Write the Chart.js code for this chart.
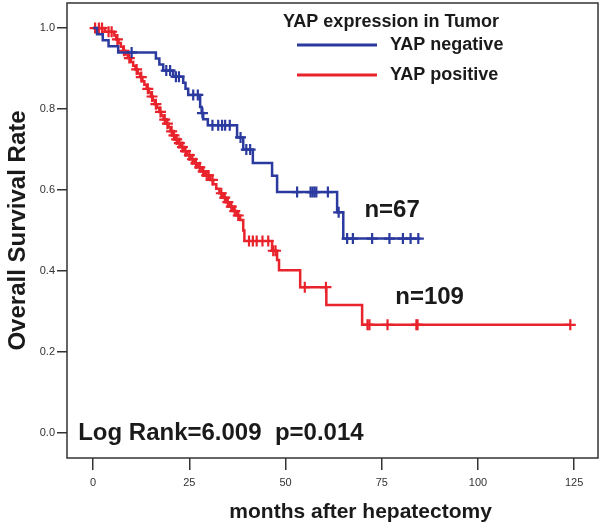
<!DOCTYPE html>
<html>
<head>
<meta charset="utf-8">
<script src="https://cdn.jsdelivr.net/npm/chart.js@4.4.0/dist/chart.umd.min.js"></script>
<style>
  html, body { margin: 0; padding: 0; background: #fff; }
</style>
</head>
<body>
<canvas id="km" width="600" height="524"></canvas>
<script>
// Kaplan-Meier steps: [month, survival after the event]
const negSteps = [
  [0, 1.0], [1, 0.985], [2.5, 0.97], [4, 0.955], [6.5, 0.94], [16.3, 0.925], [17.2, 0.91],
  [18.2, 0.895], [20.8, 0.88], [23.4, 0.865], [24, 0.85], [24.7, 0.835], [27.8, 0.805],
  [28.2, 0.79], [28.6, 0.775], [29.8, 0.76], [37.4, 0.73], [39, 0.70], [41.5, 0.667],
  [46.5, 0.635], [47.8, 0.595], [63.4, 0.545], [65, 0.48], [85, 0.48]
];
const negCensored = [
  [10, 0.94], [19, 0.895], [20, 0.895], [21.5, 0.88], [22.3, 0.88], [26, 0.835], [27.2, 0.835],
  [28.4, 0.79], [31, 0.76], [32.5, 0.76], [33.5, 0.76], [34.3, 0.76], [35.5, 0.76], [38.3, 0.73],
  [39.8, 0.70], [40.8, 0.70], [53, 0.595], [56.5, 0.595], [57, 0.595], [57.5, 0.595], [58, 0.595],
  [61, 0.595], [63.8, 0.545], [66, 0.48], [67.5, 0.48], [72.5, 0.48], [77, 0.48], [80.5, 0.48],
  [82.5, 0.48], [84.5, 0.48]
];
const posSteps = [
  [0, 1.0], [3, 0.991], [5.5, 0.982], [6, 0.972], [6.6, 0.963], [7.2, 0.954], [7.8, 0.944],
  [8.3, 0.935], [9, 0.926], [9.8, 0.916], [10.4, 0.907], [11, 0.898], [11.6, 0.888],
  [12.2, 0.879], [12.8, 0.869], [13.3, 0.86], [13.9, 0.85], [14.5, 0.841], [15, 0.831],
  [15.5, 0.822], [16, 0.812], [16.6, 0.803], [17.2, 0.793], [17.7, 0.784], [18.3, 0.774],
  [19, 0.764], [19.6, 0.755], [20.1, 0.745], [20.6, 0.735], [21.3, 0.725], [22, 0.716],
  [22.8, 0.706], [23.6, 0.696], [24.4, 0.686], [25.3, 0.676], [26.2, 0.666], [27.2, 0.656],
  [28.2, 0.646], [29, 0.636], [30.4, 0.625], [31.2, 0.614], [32, 0.603], [32.8, 0.592],
  [33.7, 0.581], [34.6, 0.57], [35.5, 0.559], [36.4, 0.548], [37.3, 0.537], [38.2, 0.526],
  [39, 0.5], [39.3, 0.474], [46.5, 0.45], [47.8, 0.427], [48.3, 0.402], [53.8, 0.36],
  [60.6, 0.316], [69.9, 0.267], [124, 0.267]
];
const posCensored = [
  [0.5, 1.0], [1.5, 1.0], [2.3, 1.0], [4, 0.991], [4.8, 0.991], [6.3, 0.972], [8, 0.944],
  [9.4, 0.926], [11.3, 0.898], [12.5, 0.879], [14.2, 0.85], [15.3, 0.831], [16.3, 0.812],
  [17.5, 0.793], [18.6, 0.774], [19.3, 0.764], [20.4, 0.745], [21, 0.735], [21.7, 0.725],
  [22.4, 0.716], [23.2, 0.706], [24, 0.696], [25, 0.686], [25.8, 0.676], [26.7, 0.666],
  [27.7, 0.656], [28.6, 0.646], [29.5, 0.636], [30, 0.636], [31, 0.625], [33.3, 0.592],
  [34.2, 0.581], [35, 0.57], [35.9, 0.559], [36.8, 0.548], [37.7, 0.537], [40.5, 0.474],
  [41.5, 0.474], [42.5, 0.474], [44, 0.474], [45.5, 0.474], [46.8, 0.45], [47.4, 0.45],
  [55, 0.36], [60.5, 0.36], [71.3, 0.267], [71.8, 0.267], [76.5, 0.267], [84, 0.267],
  [84.3, 0.267], [124, 0.267]
];
const xTicks = [0, 25, 50, 75, 100, 125];
const yTicks = [0, 0.2, 0.4, 0.6, 0.8, 1.0];
const seriesLabels = ['YAP negative', 'YAP positive'];
const legendTitle = 'YAP expression in Tumor';
const groupCounts = ['n=67', 'n=109'];
const statsText = 'Log Rank=6.009  p=0.014';
const xTitle = 'months after hepatectomy';

const BLUE = '#2a3a9f';
const RED = '#e8232b';
const INK = '#1a1a1a';
const FONT = '"Liberation Sans", Arial, sans-serif';

function toXY(arr) {
  return arr.map(p => ({ x: p[0], y: p[1] }));
}

// Box around the plot, legend, x title and text labels
const annotate = {
  id: 'annotate',
  afterDraw(chart) {
    const ctx = chart.ctx;
    const a = chart.chartArea;
    const xs = chart.scales.x;
    const ys = chart.scales.y;
    ctx.save();
    ctx.strokeStyle = '#333';
    ctx.lineWidth = 1.5;
    ctx.strokeRect(a.left, a.top, a.right - a.left, a.bottom - a.top);

    // legend
    ctx.fillStyle = INK;
    ctx.textBaseline = 'middle';
    ctx.textAlign = 'left';
    ctx.font = 'bold 18px ' + FONT;
    ctx.fillText(legendTitle, 283, 22);
    const colors = [BLUE, RED];
    [45, 75].forEach((y, i) => {
      ctx.strokeStyle = colors[i];
      ctx.lineWidth = 3;
      ctx.beginPath();
      ctx.moveTo(297, y);
      ctx.lineTo(377, y);
      ctx.stroke();
      ctx.fillText(chart.data.datasets[i * 2].label, 390, y);
    });

    // group sizes and test result
    ctx.font = 'bold 24px ' + FONT;
    ctx.fillText(groupCounts[0], xs.getPixelForValue(70.5), ys.getPixelForValue(0.55));
    ctx.fillText(groupCounts[1], xs.getPixelForValue(78.5), ys.getPixelForValue(0.335));
    ctx.fillText(statsText, xs.getPixelForValue(-3.9), ys.getPixelForValue(0.0));

    // x axis title, set a little right of centre as in the original
    ctx.font = 'bold 21px ' + FONT;
    ctx.textAlign = 'center';
    ctx.fillText(xTitle, xs.getPixelForValue(69.5), 512);
    ctx.restore();
  }
};

const lineBase = { type: 'line', stepped: 'before', borderWidth: 2.5, pointRadius: 0, fill: false };
const crossBase = {
  type: 'scatter', pointStyle: 'cross', pointRadius: 5.5, pointBorderWidth: 2.2,
  showLine: false
};

new Chart(document.getElementById('km'), {
  data: {
    datasets: [
      { ...lineBase, label: seriesLabels[0], data: toXY(negSteps), borderColor: BLUE },
      { ...crossBase, label: seriesLabels[0] + ' censored', data: toXY(negCensored), borderColor: BLUE, backgroundColor: BLUE },
      { ...lineBase, label: seriesLabels[1], data: toXY(posSteps), borderColor: RED },
      { ...crossBase, label: seriesLabels[1] + ' censored', data: toXY(posCensored), borderColor: RED, backgroundColor: RED }
    ]
  },
  options: {
    responsive: false,
    animation: false,
    layout: { autoPadding: false, padding: { top: 3, right: 2, left: 0, bottom: 0 } },
    plugins: { legend: { display: false }, tooltip: { enabled: false } },
    scales: {
      x: {
        type: 'linear',
        min: -6.8,
        max: 131.2,
        afterBuildTicks: s => { s.ticks = xTicks.map(v => ({ value: v })); },
        afterFit: s => { s.height = 66; s.paddingLeft = 0; s.paddingRight = 0; },
        grid: { drawOnChartArea: false, drawTicks: true, tickLength: 12, color: '#333', lineWidth: 1.5 },
        border: { display: false },
        ticks: { color: '#333', padding: 6, font: { family: FONT, size: 11 }, maxRotation: 0 },
        title: { display: false }
      },
      y: {
        type: 'linear',
        min: -0.062,
        max: 1.062,
        afterBuildTicks: s => { s.ticks = yTicks.map(v => ({ value: v })); },
        afterFit: s => { s.width = 67; s.paddingTop = 0; s.paddingBottom = 0; },
        grid: { drawOnChartArea: false, drawTicks: true, tickLength: 10, color: '#333', lineWidth: 1.5 },
        border: { display: false },
        ticks: { color: '#333', padding: 2, font: { family: FONT, size: 11 }, callback: v => v.toFixed(1) },
        title: { display: true, text: 'Overall Survival Rate', color: INK, font: { family: FONT, size: 24, weight: 'bold' }, padding: { top: 4, bottom: 0 } }
      }
    }
  },
  plugins: [annotate]
});
</script>
</body>
</html>
